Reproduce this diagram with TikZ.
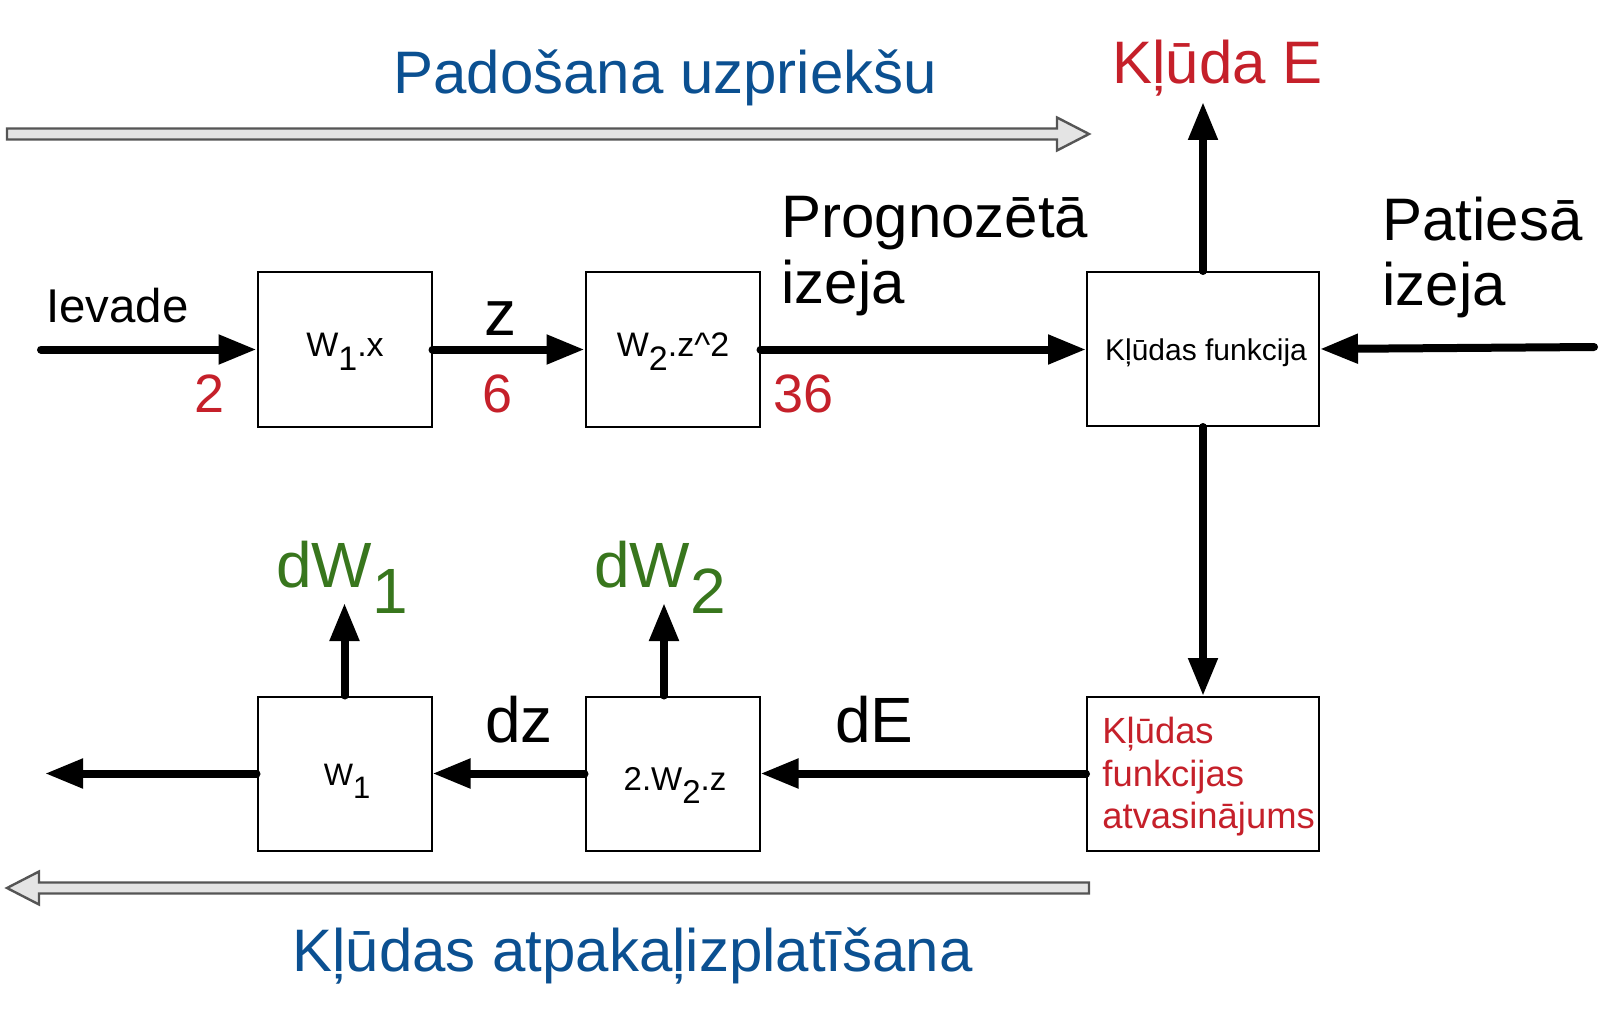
\documentclass[tikz,border=0pt]{standalone}
\usepackage{fontspec}
\setmainfont{Liberation Sans}
\usetikzlibrary{arrows.meta}
\definecolor{tblue}{RGB}{11,80,145}
\definecolor{tred}{RGB}{197,32,42}
\definecolor{tgreen}{RGB}{56,118,29}
\definecolor{garrowfill}{RGB}{228,228,228}
\definecolor{garrowdraw}{RGB}{85,85,85}
\newcommand{\lowsub}[1]{\raisebox{-0.42em}{#1}}
\begin{document}
\begin{tikzpicture}[x=0.5pt,y=-0.5pt,
  box/.style={draw,line width=1pt,minimum width=87pt,minimum height=77pt,inner sep=0pt,anchor=center},
  widebox/.style={box,minimum width=116pt},
  boxtext/.style={anchor=base,inner sep=0pt},
  flow/.style={line width=4pt,line cap=round,-{Triangle[length=19pt,width=14pt]}},
  lbl/.style={anchor=base west,inner sep=0pt,font=\fontsize{30pt}{34pt}\selectfont},
  dlbl/.style={anchor=base west,inner sep=0pt,font=\fontsize{32pt}{36pt}\selectfont},
  numlbl/.style={anchor=base west,inner sep=0pt,text=tred,font=\fontsize{27pt}{30pt}\selectfont},
  dwlbl/.style={anchor=base west,inner sep=0pt,text=tgreen,font=\fontsize{32pt}{36pt}\selectfont},
  garrow/.style={fill=garrowfill,draw=garrowdraw,line width=1.2pt,line join=miter}
]
\useasboundingbox (0,0) rectangle (1600,1027);

% big gray direction arrows
\draw[garrow] (7,128.5) -- (1057,128.5) -- (1057,117.5) -- (1089,134) -- (1057,150.5) -- (1057,139.5) -- (7,139.5) -- cycle;
\draw[garrow] (1089,882.5) -- (39,882.5) -- (39,871.5) -- (7,888) -- (39,904.5) -- (39,893.5) -- (1089,893.5) -- cycle;

% titles
\node[lbl,text=tblue] (ttop) at (393,94) {Padošana uzpriekšu};
\node[lbl,text=tblue] (tbot) at (292,971) {Kļūdas atpakaļizplatīšana};
\node[lbl,text=tred] (kE) at (1112,84) {Kļūda E};

% boxes
\node[box] (b1) at (344.5,349.5) {};
\node[box] (b2) at (672.5,349.5) {};
\node[widebox] (b3) at (1203,349) {};
\node[box] (b1b) at (344.5,773.5) {};
\node[box] (b2b) at (672.5,773.5) {};
\node[widebox] (b4) at (1203,774) {};

% box texts
\node[boxtext,font=\fontsize{17pt}{20pt}\selectfont] (tb1) at (345,356) {W\lowsub{1}.x};
\node[boxtext,font=\fontsize{17pt}{20pt}\selectfont] (tb2) at (673,356) {W\lowsub{2}.z\^{}2};
\node[boxtext,font=\fontsize{15pt}{18pt}\selectfont] (tb3) at (1206,360) {Kļūdas funkcija};
\node[boxtext,font=\fontsize{15.5pt}{18pt}\selectfont] (tb1b) at (347,785) {W\lowsub{1}};
\node[boxtext,font=\fontsize{16.5pt}{19pt}\selectfont] (tb2b) at (675,790) {2.W\lowsub{2}.z};
\node[anchor=base west,inner sep=0pt,text=tred,font=\fontsize{18.2pt}{20.8pt}\selectfont] (tb4a) at (1102,743) {Kļūdas};
\node[anchor=base west,inner sep=0pt,text=tred,font=\fontsize{18.2pt}{20.8pt}\selectfont] (tb4b) at (1102,786) {funkcijas};
\node[anchor=base west,inner sep=0pt,text=tred,font=\fontsize{18.2pt}{20.8pt}\selectfont] (tb4c) at (1102,828) {atvasinājums};

% free ends
\coordinate (in) at (41,349.5);
\coordinate (pin) at (1594,347);
\coordinate (eout) at (1203,102);
\coordinate (bout) at (45,773.5);
\coordinate (w1out) at (344.5,603);
\coordinate (w2out) at (664,603);

% connectors
\draw[flow] (in) -- (b1.west);
\draw[flow] (b1.east) -- (b2.west);
\draw[flow] (b2.east) -- (b3.west |- b2.east);
\draw[flow] (pin) -- (b3.east);
\draw[flow] (b3.north) -- (eout);
\draw[flow] (b3.south) -- (b4.north);
\draw[flow] (b4.west |- b2b.east) -- (b2b.east);
\draw[flow] (b2b.west) -- (b1b.east);
\draw[flow] (b1b.west) -- (bout);
\draw[flow] (b1b.north) -- (w1out);
\draw[flow] (b2b.north -| w2out) -- (w2out);

% labels
\node[anchor=base west,inner sep=0pt,font=\fontsize{23.7pt}{26pt}\selectfont] (iev) at (46,322) {Ievade};
\node[numlbl] (n2) at (194,412) {2};
\node[numlbl] (n6) at (482,412) {6};
\node[numlbl] (n36) at (773,412) {36};
\node[dlbl] (lz) at (484,335) {z};
\node[lbl] (pr1) at (781,238) {Prognozētā};
\node[lbl] (pr2) at (781,303) {izeja};
\node[lbl] (pa1) at (1382,241) {Patiesā};
\node[lbl] (pa2) at (1382,306) {izeja};
\node[dlbl] (ldz) at (485,742) {dz};
\node[dlbl] (ldE) at (835,742) {dE};
\node[dwlbl] (dw1) at (276,587) {dW\lowsub{1}};
\node[dwlbl] (dw2) at (594,587) {dW\lowsub{2}};
\end{tikzpicture}
\end{document}
